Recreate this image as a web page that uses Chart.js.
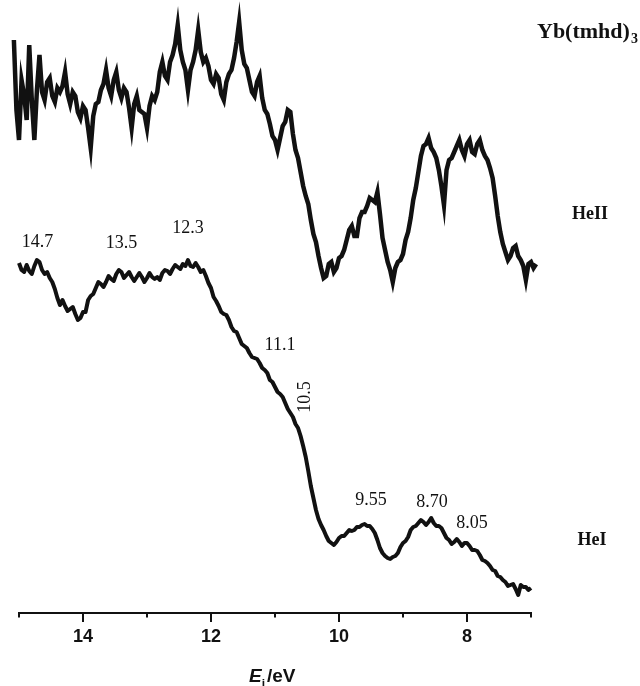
<!DOCTYPE html>
<html><head><meta charset="utf-8">
<script src="https://cdn.jsdelivr.net/npm/chart.js@4.4.1/dist/chart.umd.min.js"></script>
<style>html,body{margin:0;padding:0;background:#fff}canvas{display:block}</style>
</head><body>
<canvas id="c" width="640" height="686"></canvas>
<script>
// ---- data ----
const heIIStart = 15.08;   // eV of first HeII sample
const heIStart = 15.00;    // eV of first HeI sample
const energyStep = 0.04;   // eV between samples

const heII = [
573,503,473,533,518,493,568,513,473,523,
558,521,513,531,535,517,511,525,521,527,
541,519,509,521,517,501,495,507,503,485,
465,497,509,511,523,529,543,525,517,533,
541,523,515,525,521,505,485,509,517,503,
501,499,485,507,517,513,521,541,551,537,
533,551,558,569,588,563,551,543,523,543,
551,563,583,561,551,555,547,533,529,539,
535,519,513,531,539,543,555,571,591,563,
549,545,533,521,517,531,537,515,503,499,
489,477,473,463,475,487,491,503,501,479,
463,455,441,427,417,409,393,379,371,357,
345,335,337,349,351,341,345,355,357,363,
373,383,387,377,377,395,401,401,407,415,
413,411,421,399,375,363,351,343,331,345,
351,353,359,373,381,395,413,425,441,457,
467,469,475,465,461,455,443,427,408,443,
453,455,461,467,473,463,457,469,473,461,
459,469,473,463,457,453,445,435,417,397,
381,369,361,353,357,365,367,357,353,347,
333,349,351,345,349
];

const heI = [
350,343,341,348,342,339,347,353,351,343,
339,341,335,331,324,315,308,313,307,302,
304,306,299,293,295,301,301,313,317,319,
325,331,329,326,331,337,334,332,339,343,
341,335,338,341,336,332,336,340,336,331,
335,340,336,334,
336,333,340,343,342,339,344,348,346,344,349,347,353,347,346,350,346,341,343,337,
330,325,316,312,307,301,299,298,293,286,282,281,275,269,267,265,260,256,255,254,
250,245,243,240,233,231,226,221,219,216,210,204,200,196,189,185,177,167,156,142,
127,115,103,94,88,83,77,72,70,68,71,75,77,77,80,83,82,83,86,86,
88,89,87,87,84,80,73,65,60,57,55,54,56,57,60,66,70,72,76,83,
86,87,90,93,91,88,91,95,90,87,87,85,80,75,73,69,71,74,71,67,
70,70,67,63,63,62,58,53,52,50,47,43,42,37,36,33,31,27,28,29,
24,18,28,26,26,23,
25
];

const majorTicks = [14, 12, 10, 8];
const tickLabels = ['14', '12', '10', '8'];
const minorTicks = [15, 13, 11, 9, 7];
const peakLabels = ['14.7', '13.5', '12.3', '11.1', '10.5', '9.55', '8.70', '8.05'];
const seriesLabels = ['HeII', 'HeI'];
const compoundName = 'Yb(tmhd)';
const compoundSub = '3';

// ---- layout / styling (pixel positions of annotation text) ----
const peakLabelPos = [
  [37.5, 247, 0], [121.5, 248, 0], [188, 233, 0], [280, 350, 0],
  [303.5, 397, 1], [371, 505, 0], [432, 507, 0], [472, 528, 0]
];
const seriesLabelPos = [[590, 219], [592, 545]];

function toPoints(start, vals) {
  return vals.map((v, i) => ({ x: +(start - i * energyStep).toFixed(2), y: v }));
}

const annot = {
  id: 'annot',
  beforeDraw(chart) {
    const c = chart.ctx; c.save(); c.fillStyle = '#fff'; c.fillRect(0, 0, chart.width, chart.height); c.restore();
  },
  afterDraw(chart) {
    const ctx = chart.ctx, xs = chart.scales.x, y0 = chart.chartArea.bottom;
    ctx.save();
    ctx.strokeStyle = '#111'; ctx.lineWidth = 2;
    majorTicks.forEach(v => { const x = Math.round(xs.getPixelForValue(v)); ctx.beginPath(); ctx.moveTo(x, y0 - 1); ctx.lineTo(x, y0 + 9); ctx.stroke(); });
    minorTicks.forEach(v => { const x = Math.round(xs.getPixelForValue(v)); ctx.beginPath(); ctx.moveTo(x, y0 - 1); ctx.lineTo(x, y0 + 4.5); ctx.stroke(); });

    ctx.fillStyle = '#111';
    ctx.font = '18px "Liberation Serif", "Times New Roman", serif';
    ctx.textAlign = 'center'; ctx.textBaseline = 'alphabetic';
    peakLabels.forEach((t, i) => {
      const [x, y, rot] = peakLabelPos[i];
      if (rot) {
        ctx.save(); ctx.translate(x, y); ctx.rotate(-Math.PI / 2);
        ctx.fillText(t, 0, 6); ctx.restore();
      } else ctx.fillText(t, x, y);
    });

    ctx.font = 'bold 18px "Liberation Serif", "Times New Roman", serif';
    seriesLabels.forEach((t, i) => ctx.fillText(t, seriesLabelPos[i][0], seriesLabelPos[i][1]));

    ctx.textAlign = 'left';
    ctx.font = 'bold 22px "Liberation Serif", "Times New Roman", serif';
    ctx.fillText(compoundName, 537, 38);
    const w = ctx.measureText(compoundName).width;
    ctx.font = 'bold 14px "Liberation Serif", "Times New Roman", serif';
    ctx.fillText(compoundSub, 537 + w + 1, 43);

    // axis title E_i/eV
    let ax = 249;
    ctx.font = 'italic bold 19px "Liberation Sans", Arial, sans-serif';
    ctx.fillText('E', ax, 682); ax += ctx.measureText('E').width;
    ctx.font = 'bold 12px "Liberation Sans", Arial, sans-serif';
    ctx.fillText('i', ax, 688); ax += ctx.measureText('i').width + 2;
    ctx.font = 'bold 19px "Liberation Sans", Arial, sans-serif';
    ctx.fillText('/eV', ax, 682);
    ctx.restore();
  }
};

new Chart(document.getElementById('c'), {
  type: 'line',
  data: {
    datasets: [
      { label: 'HeII', data: toPoints(heIIStart, heII), borderColor: '#111', borderWidth: 4.5, pointRadius: 0, tension: 0, clip: false },
      { label: 'HeI', data: toPoints(heIStart, heI), borderColor: '#111', borderWidth: 4, borderJoinStyle: 'round', pointRadius: 0, tension: 0, clip: false }
    ]
  },
  options: {
    responsive: false, animation: false, devicePixelRatio: 1,
    layout: { padding: { left: 19, right: 109, top: 0, bottom: 0 } },
    plugins: { legend: { display: false }, tooltip: { enabled: false } },
    scales: {
      x: {
        type: 'linear', reverse: true, min: 7, max: 15,
        afterFit(s) { s.height = 73; },
        grid: { display: true, drawOnChartArea: false, drawTicks: false },
        border: { display: true, color: '#111', width: 2 },
        ticks: {
          stepSize: 1, autoSkip: false, maxRotation: 0, padding: 13, color: '#111',
          font: { family: '"Liberation Sans", Arial, sans-serif', weight: 'bold', size: 18 },
          callback: (v) => { const i = majorTicks.indexOf(Math.round(v)); return i >= 0 ? tickLabels[i] : ''; }
        }
      },
      y: { display: false, min: 0, max: 613 }
    }
  },
  plugins: [annot]
});
</script>
</body></html>
